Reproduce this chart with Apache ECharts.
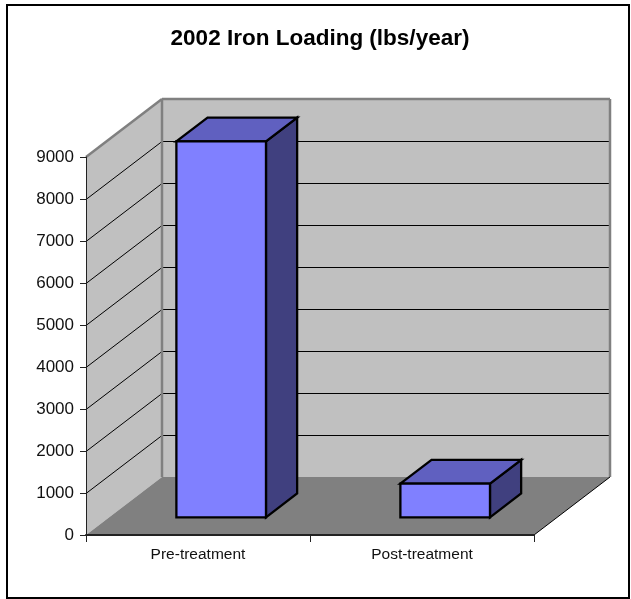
<!DOCTYPE html>
<html>
<head>
<meta charset="utf-8">
<title>2002 Iron Loading</title>
<style>
    html, body { margin: 0; padding: 0; background: #fff; }
    #chart { width: 631px; height: 599px; }
</style>
<script src="https://cdn.jsdelivr.net/npm/echarts@6/dist/echarts.min.js"></script>
</head>
<body>
<div id="chart"></div>
<script>
    var categories = ['Pre-treatment', 'Post-treatment'];
    var loading = [8950, 800];
    var gridTicks = [1000, 2000, 3000, 4000, 5000, 6000, 7000, 8000];

    // 3D look: how far the back wall is shifted from the axis plane, in px
    var depthX = 76;
    var depthY = -58;
    // where the bar sits inside the floor depth (0 front, 1 back)
    var barFront = 0.305;
    var barBack = 0.715;
    var barRatio = 0.4;

    var chart = echarts.init(document.getElementById('chart'));

    function shift(p, d) {
        return [p[0] + depthX * d, p[1] + depthY * d];
    }

    function poly(points, fill, stroke, width, z) {
        return {
            type: 'polygon',
            z2: z || 0,
            shape: {points: points},
            style: {fill: fill, stroke: stroke || null, lineWidth: width || 0, lineJoin: 'miter'}
        };
    }

    function line(a, b, color, width) {
        return {
            type: 'line',
            z2: 2,
            shape: {x1: a[0], y1: a[1], x2: b[0], y2: b[1]},
            style: {stroke: color, lineWidth: width}
        };
    }

    // walls, floor and grid lines
    function renderWalls(params, api) {
        var cs = params.coordSys;
        var x0 = cs.x, x1 = cs.x + cs.width, yB = cs.y + cs.height, yT = cs.y;
        var kids = [];

        kids.push(poly([[x0, yB], [x0, yT], shift([x0, yT], 1), shift([x0, yB], 1)], '#c0c0c0'));
        kids.push(poly([shift([x0, yT], 1), shift([x1, yT], 1), shift([x1, yB], 1), shift([x0, yB], 1)], '#c0c0c0'));
        kids.push(poly([[x0, yB], shift([x0, yB], 1), shift([x1, yB], 1), [x1, yB]], '#808080'));

        gridTicks.forEach(function (v) {
            // half pixel so the 1px lines stay crisp
            var y = Math.round(api.coord([0, v])[1]) + 0.5;
            kids.push(line([x0, y], shift([x0, y], 1), '#000', 1));
            kids.push(line(shift([x0, y], 1), shift([x1, y], 1), '#000', 1));
        });

        // gray edge of the walls
        kids.push(line([x0, yT], shift([x0, yT], 1), '#808080', 2.5));
        kids.push(line(shift([x0, yT], 1), shift([x1, yT], 1), '#808080', 2.5));
        kids.push(line(shift([x0, yT], 1), shift([x0, yB], 1), '#808080', 2.5));
        kids.push(line(shift([x1, yT], 1), shift([x1, yB], 1), '#808080', 2.5));
        kids.push(line([x1, yB], shift([x1, yB], 1), '#000', 1));

        return {type: 'group', children: kids};
    }

    function renderBar(params, api) {
        var top = api.coord([api.value(0), api.value(1)]);
        var base = api.coord([api.value(0), 0]);
        var w = api.size([1, 0])[0] * barRatio;

        var fl = [top[0] - w / 2, base[1]], fr = [top[0] + w / 2, base[1]];
        var tl = [top[0] - w / 2, top[1]], tr = [top[0] + w / 2, top[1]];

        var a = shift(fl, barFront), b = shift(fr, barFront);
        var c = shift(tr, barFront), d = shift(tl, barFront);
        var e = shift(fr, barBack), f = shift(tr, barBack), g = shift(tl, barBack);

        return {
            type: 'group',
            children: [
                poly([b, e, f, c], '#40407f', '#000', 2.3),
                poly([d, c, f, g], '#6060c0', '#000', 2.3),
                poly([a, b, c, d], '#8080ff', '#000', 2.3)
            ]
        };
    }

    var barData = loading.map(function (v, i) {
        return [i, v];
    });

    chart.setOption({
        animation: false,
        backgroundColor: '#fff',
        title: {
            text: '2002 Iron Loading (lbs/year)',
            left: 315,
            top: 22,
            textAlign: 'center',
            textStyle: {fontFamily: 'Liberation Sans', fontSize: 22.5, fontWeight: 'bold', color: '#000'}
        },
        graphic: [{
            type: 'rect',
            z: -10,
            shape: {x: 7, y: 5, width: 622, height: 593},
            style: {fill: '#fff', stroke: '#000', lineWidth: 2}
        }],
        grid: {left: 86, right: 97, top: 157, bottom: 64},
        xAxis: {
            type: 'category',
            data: categories,
            z: 5,
            axisLine: {lineStyle: {color: '#222', width: 2}},
            axisTick: {show: true, length: 7, lineStyle: {color: '#222', width: 1}},
            axisLabel: {fontFamily: 'Liberation Sans', fontSize: 15.5, color: '#111', margin: 12}
        },
        yAxis: {
            type: 'value',
            min: 0,
            max: 9000,
            interval: 1000,
            z: 5,
            axisLine: {show: true, lineStyle: {color: '#222', width: 1}},
            axisTick: {show: true, length: 6, lineStyle: {color: '#222', width: 1}},
            axisLabel: {
                fontFamily: 'Liberation Sans',
                fontSize: 17,
                color: '#111',
                margin: 12,
                formatter: function (v) {
                    return String(v);
                }
            },
            splitLine: {show: false}
        },
        series: [
            {
                type: 'custom',
                clip: false,
                silent: true,
                z: 1,
                data: [[0, 0]],
                renderItem: renderWalls
            },
            {
                name: '2002 Iron Loading',
                type: 'custom',
                clip: false,
                z: 3,
                encode: {x: 0, y: 1},
                data: barData,
                renderItem: renderBar
            }
        ]
    });
</script>
</body>
</html>
